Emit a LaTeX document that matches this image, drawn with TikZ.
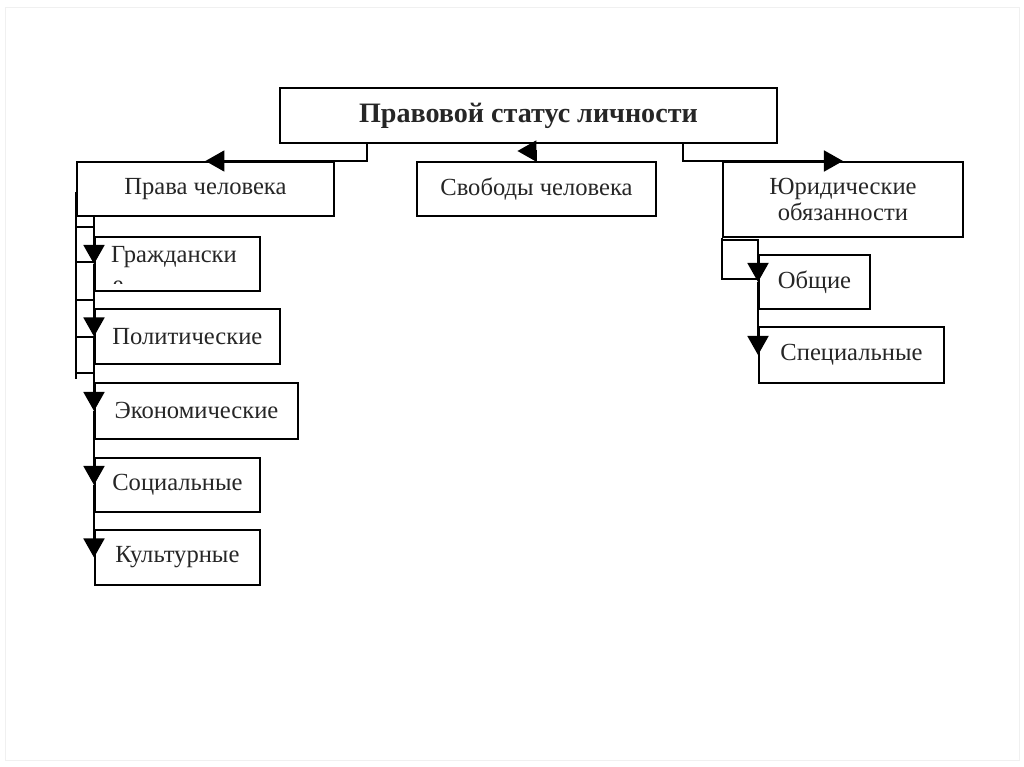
\documentclass[tikz,border=0pt]{standalone}
\usepackage{fontspec}
\setmainfont{Liberation Serif}
\usepackage{tikz}
\usetikzlibrary{arrows.meta, positioning, calc}

\begin{document}
\begin{tikzpicture}[
    x=0.02cm, y=-0.02cm,
    box/.style={rectangle, draw, line width=1.1pt, inner sep=0pt, anchor=north west,
        text=black!85, font=\fontsize{14}{15}\selectfont, align=center},
    arr/.style={line width=1.1pt, -{Triangle[length=0.38cm, width=0.42cm]}},
    thin/.style={line width=0.7pt}
]
    \useasboundingbox (0,0) rectangle (1024,767);
    \draw[black!6] (5,7) rectangle (1019,760);

    % top level
    \node[box, minimum width=9.94cm, minimum height=1.10cm,
          font=\fontsize{16}{18}\selectfont\bfseries] (status) at (279,87) {Правовой статус личности};
    \node[box, minimum width=5.14cm, minimum height=1.08cm] (prava) at (76,161) {Права человека};
    \node[box, minimum width=4.78cm, minimum height=1.08cm] (svoboda) at (416,161) {Свободы человека};
    \node[box, minimum width=4.80cm, minimum height=1.50cm] (obyaz) at (722,161) {Юридические\\обязанности};

    % rights
    \node[box, minimum width=3.30cm, minimum height=1.08cm] (grazh) at (94,236) {};
    \begin{scope}
        \clip (94,236) rectangle (259,283);
        \node[anchor=base, text=black!85, font=\fontsize{14}{15}\selectfont] (grazhA) at (174,262) {Граждански};
        \node[anchor=base, text=black!85, font=\fontsize{14}{15}\selectfont] (grazhB) at (118,292) {е};
    \end{scope}
    \node[box, minimum width=3.70cm, minimum height=1.10cm] (polit) at (94,308) {Политические};
    \node[box, minimum width=4.06cm, minimum height=1.12cm] (ekon) at (94,382) {Экономические};
    \node[box, minimum width=3.30cm, minimum height=1.08cm] (soc) at (94,457) {Социальные};
    \node[box, minimum width=3.30cm, minimum height=1.10cm] (kult) at (94,529) {Культурные};

    % duties
    \node[box, minimum width=2.22cm, minimum height=1.08cm] (obsh) at (758,254) {Общие};
    \node[box, minimum width=3.70cm, minimum height=1.12cm] (spec) at (758,326) {Специальные};

    % from the top box
    \draw[arr] ([xshift=1.76cm]status.south west) |- (prava.north);
    \draw[arr] (svoboda.north) -- ++(0,-10) -- ++(-19,0);
    \draw[arr] ([xshift=8.08cm]status.south west) |- (obyaz.north);

    % rights trunk
    \draw[arr] ([xshift=0.36cm]prava.south west) -- (grazh.west);
    \draw[arr] (grazh.west) -- (polit.west);
    \draw[arr] (polit.west) -- (ekon.west);
    \draw[arr] (ekon.west) -- (soc.west);
    \draw[arr] (soc.west) -- (kult.west);
    \draw[thin] ([yshift=0.5cm]prava.south west) -- ++(0,187);
    \foreach \y in {227,262,300,337,373}
        \draw[thin] (76,\y) -- (94,\y);

    % duties trunk
    \draw[arr] (obyaz.south west) -- ++(0,2) -- ++(36,0) -- (obsh.west);
    \draw[arr] (obsh.west) -- (spec.west);
    \draw[thin] (obyaz.south west) -- ++(0,41) -- ++(36,0);
\end{tikzpicture}
\end{document}
